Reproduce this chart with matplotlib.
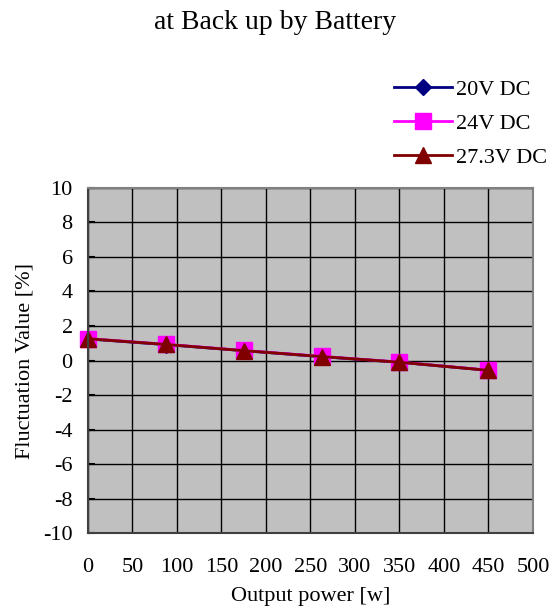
import matplotlib
matplotlib.use("Agg")
import matplotlib.pyplot as plt
from matplotlib.lines import Line2D

plt.rcParams['font.family'] = ['Liberation Serif', 'DejaVu Serif']

# Output power [W] and fluctuation [%] per input voltage
power = [0, 87.5, 175, 262.5, 350, 450]
v20 = [1.25, 0.92, 0.57, 0.22, -0.10, -0.57]
v24 = [1.27, 0.94, 0.58, 0.24, -0.09, -0.56]
v273 = [1.26, 0.93, 0.57, 0.23, -0.10, -0.57]

series_labels = ["20V DC", "24V DC", "27.3V DC"]
x_ticks = [0, 50, 100, 150, 200, 250, 300, 350, 400, 450, 500]
y_ticks = [10, 8, 6, 4, 2, 0, -2, -4, -6, -8, -10]

fig = plt.figure(figsize=(5.5, 6.1), dpi=100)
ax = fig.add_axes([0.16, 0.126, 0.809, 0.566])
ax.set_facecolor("#C0C0C0")

styles = [
    dict(color="#000080", marker="D", ms=8, mfc="#000080", mec="#000080"),
    dict(color="#FF00FF", marker="s", ms=11, mfc="#FF00FF", mec="#FF00FF"),
    dict(color="#800000", marker="^", ms=11, mfc="#800000", mec="#800000"),
]
for ys, lab, st in zip([v20, v24, v273], series_labels, styles):
    ax.plot(power, ys, lw=2, label=lab, clip_on=False, **st)

ax.set_xlim(0, 500)
ax.set_ylim(-10, 10)
ax.set_xticks(x_ticks)
ax.set_yticks(y_ticks)
ax.set_xticklabels([str(v) for v in x_ticks])
ax.set_yticklabels([str(v) for v in y_ticks])
ax.grid(True, color="black", lw=1)
ax.set_axisbelow(True)
ax.tick_params(axis="y", direction="in", length=5, width=1.5, labelsize=16, pad=11)
ax.tick_params(axis="x", direction="in", length=0, labelsize=16, pad=18)
for s in ["top", "right"]:
    ax.spines[s].set_color("#808080")
    ax.spines[s].set_linewidth(1.5)
for s in ["left", "bottom"]:
    ax.spines[s].set_color("#404040")
    ax.spines[s].set_linewidth(1.5)

ax.set_xlabel("Output power [w]", fontsize=16, labelpad=7)
ax.set_ylabel("Fluctuation Value [%]", fontsize=16, labelpad=6)
fig.text(0.5, 0.963, "at Back up by Battery", ha="center", va="center", fontsize=20)

handles = [Line2D([0], [0], lw=2, **st) for st in styles]
fig.legend(handles, series_labels, loc="upper right", bbox_to_anchor=(1.032, 0.903),
           frameon=False, fontsize=16, handlelength=2.6, labelspacing=0.6,
           handletextpad=0.2)

fig.savefig("out.png", dpi=100)
